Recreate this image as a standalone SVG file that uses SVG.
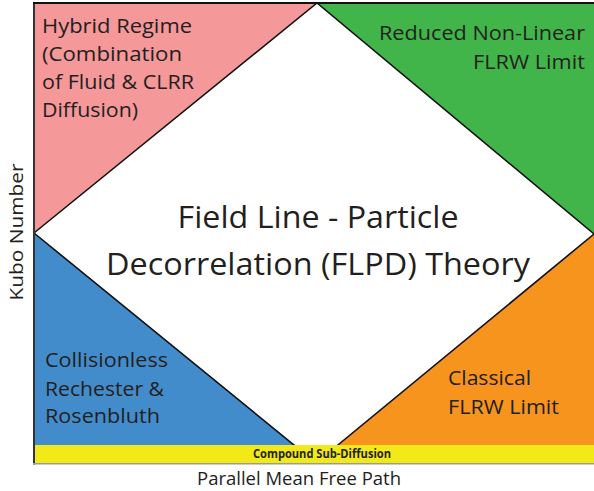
<svg xmlns="http://www.w3.org/2000/svg" width="594" height="491" viewBox="0 0 594 491">
<style>
text{font-family:"Open Sans","Noto Sans","Liberation Sans",sans-serif;fill:#231F20}
.lbl{font-size:20px}
.title{font-size:31px}
.edge{fill:none;stroke:#111;stroke-width:1.6;stroke-linejoin:miter}
</style>
<rect width="594" height="491" fill="#fff"/>
<g id="hybrid">
<polygon points="34,3 317,3 34,233" fill="#F4989A"/>
<text class="lbl" x="42" y="33" textLength="150" lengthAdjust="spacingAndGlyphs">Hybrid Regime</text>
<text class="lbl" x="42" y="61" textLength="140" lengthAdjust="spacingAndGlyphs">(Combination</text>
<text class="lbl" x="42" y="89" textLength="152" lengthAdjust="spacingAndGlyphs">of Fluid &amp; CLRR</text>
<text class="lbl" x="42" y="117" textLength="96" lengthAdjust="spacingAndGlyphs">Diffusion)</text>
</g>
<g id="reduced">
<polygon points="317,3 594,3 594,234" fill="#41B549"/>
<text class="lbl" x="585" y="40" text-anchor="end" textLength="206" lengthAdjust="spacingAndGlyphs">Reduced Non-Linear</text>
<text class="lbl" x="585" y="69" text-anchor="end" textLength="112" lengthAdjust="spacingAndGlyphs">FLRW Limit</text>
</g>
<g id="collisionless">
<polygon points="34,233 295,445 34,445" fill="#438CCB"/>
<text class="lbl" x="45" y="367" textLength="123" lengthAdjust="spacingAndGlyphs">Collisionless</text>
<text class="lbl" x="45" y="396" textLength="119" lengthAdjust="spacingAndGlyphs">Rechester &amp;</text>
<text class="lbl" x="45" y="423" textLength="115" lengthAdjust="spacingAndGlyphs">Rosenbluth</text>
</g>
<g id="classical">
<polygon points="594,234 594,445 338,445" fill="#F7941E"/>
<text class="lbl" x="448" y="385" textLength="83" lengthAdjust="spacingAndGlyphs">Classical</text>
<text class="lbl" x="448" y="414" textLength="111" lengthAdjust="spacingAndGlyphs">FLRW Limit</text>
</g>
<g id="connectors">
<polyline class="edge" points="34,233 317,3 594,234"/>
<polyline class="edge" points="34,233 316,463 594,234"/>
</g>
<g id="flpd">
<text class="title" x="318" y="228" text-anchor="middle" textLength="281" lengthAdjust="spacingAndGlyphs">Field Line - Particle</text>
<text class="title" x="318" y="275" text-anchor="middle" textLength="424" lengthAdjust="spacingAndGlyphs">Decorrelation (FLPD) Theory</text>
</g>
<g id="compound">
<rect x="34" y="445" width="560" height="18" fill="#F2EA18"/>
<text x="322" y="458" text-anchor="middle" font-size="11.5" font-weight="bold" textLength="138" lengthAdjust="spacingAndGlyphs">Compound Sub-Diffusion</text>
</g>
<g id="axes">
<line x1="34" y1="2" x2="34" y2="464.5" stroke="#333" stroke-width="2"/>
<line x1="33" y1="3" x2="594" y2="3" stroke="#111" stroke-width="2"/>
<line x1="33" y1="463.8" x2="594" y2="463.8" stroke="#999" stroke-width="1.5"/>
<text x="299" y="485" text-anchor="middle" font-size="19" textLength="204" lengthAdjust="spacingAndGlyphs">Parallel Mean Free Path</text>
<text transform="translate(23,232) rotate(-90)" text-anchor="middle" font-size="19" textLength="137" lengthAdjust="spacingAndGlyphs">Kubo Number</text>
</g>
</svg>
